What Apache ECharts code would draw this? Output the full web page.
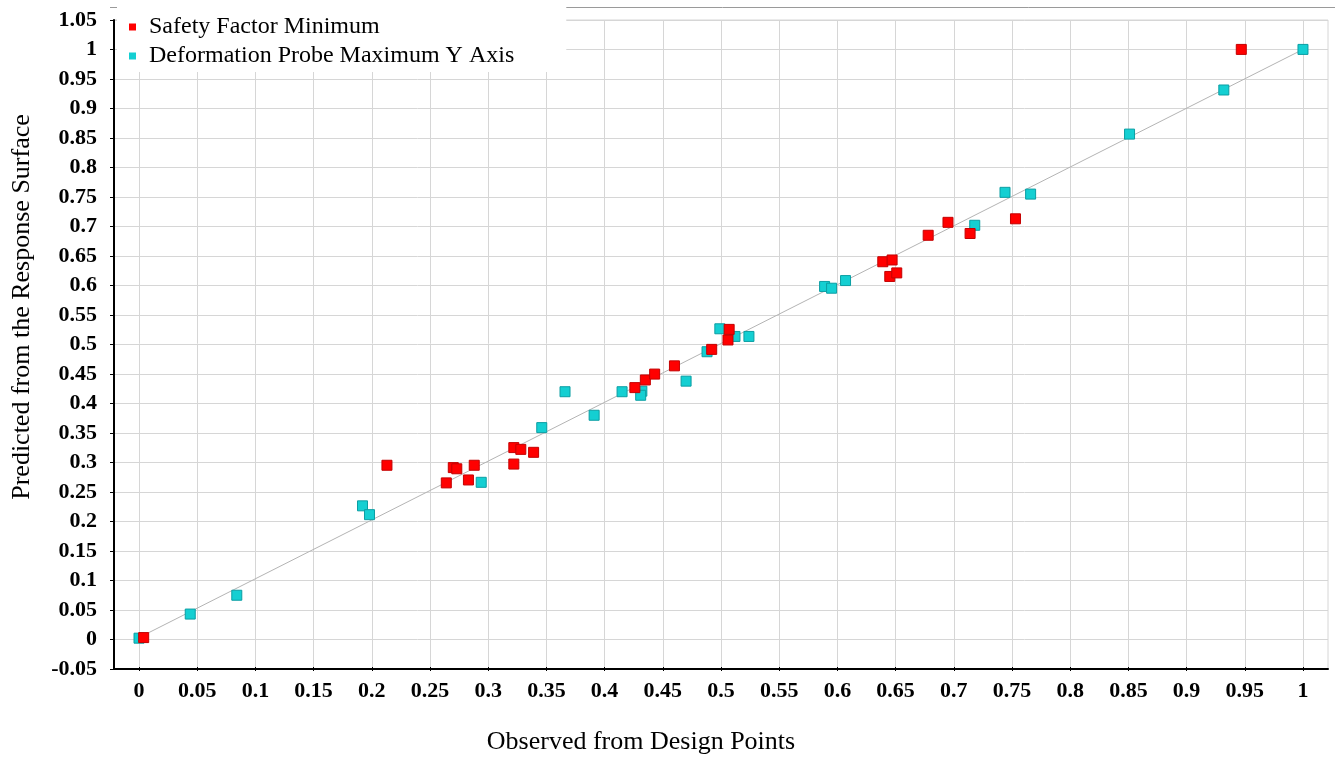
<!DOCTYPE html>
<html>
<head>
<meta charset="utf-8">
<script src="https://cdn.jsdelivr.net/npm/echarts@6/dist/echarts.min.js"></script>
<style>html,body{margin:0;padding:0;background:#fff;}#chart{width:1335px;height:760px;}</style>
</head>
<body>
<div id="chart"></div>
<script>
// ---- data ----
const safetyX = [0.004, 0.213, 0.264, 0.270, 0.273, 0.283, 0.288, 0.322, 0.322, 0.328, 0.339, 0.426, 0.435, 0.443, 0.460, 0.492, 0.506, 0.507, 0.639, 0.647, 0.645, 0.651, 0.678, 0.695, 0.714, 0.753, 0.947];
const safetyY = [0.000, 0.293, 0.263, 0.289, 0.287, 0.268, 0.293, 0.323, 0.295, 0.320, 0.315, 0.425, 0.438, 0.448, 0.462, 0.490, 0.506, 0.524, 0.639, 0.642, 0.614, 0.620, 0.684, 0.706, 0.687, 0.712, 1.000];
const deformX = [-0.002, 0.000, 0.044, 0.084, 0.192, 0.198, 0.294, 0.346, 0.366, 0.391, 0.415, 0.432, 0.431, 0.470, 0.488, 0.499, 0.512, 0.524, 0.589, 0.595, 0.607, 0.718, 0.744, 0.766, 0.851, 0.932, 1.000];
const deformY = [0.007, -0.001, 0.040, 0.072, 0.224, 0.209, 0.264, 0.357, 0.418, 0.378, 0.418, 0.419, 0.412, 0.436, 0.486, 0.525, 0.512, 0.512, 0.597, 0.594, 0.607, 0.701, 0.757, 0.754, 0.856, 0.931, 1.000];
const fitLineX = [0, 1];
const fitLineY = [0, 1];
const seriesNames = ['Safety Factor Minimum', 'Deformation Probe Maximum Y Axis'];
const xTickMin = 0, xTickMax = 1, tickStep = 0.05;
const yMin = -0.05, yMax = 1.05;
const xFrameMin = -0.0215, xFrameMax = 1.0215;

// ---- layout ----
const W = 1335;
const frameLeft = 114, frameRight = 7, frameTop = 20, frameBottom = 91;
const frameWidth = W - frameLeft - frameRight;
const innerLeft = frameLeft + (xTickMin - xFrameMin) / (xFrameMax - xFrameMin) * frameWidth;
const innerRight = frameRight + (xFrameMax - xTickMax) / (xFrameMax - xFrameMin) * frameWidth;

const zip = (a, b) => a.map((v, i) => [v, b[i]]);
const fmt = v => String(parseFloat(v.toFixed(2)));
const serif = 'Liberation Serif';
const gridColor = '#d6d6d6';

const chart = echarts.init(document.getElementById('chart'), null, {renderer: 'canvas'});
chart.setOption({
  animation: false,
  backgroundColor: '#ffffff',
  graphic: [{
    type: 'line', z: 0,
    shape: {x1: 110, y1: 7.5, x2: W, y2: 7.5},
    style: {stroke: '#9a9a9a', lineWidth: 1}
  }],
  grid: [
    {left: frameLeft, right: frameRight, top: frameTop, bottom: frameBottom,
     show: true, borderColor: gridColor, borderWidth: 1, backgroundColor: 'transparent'},
    {left: innerLeft, right: innerRight, top: frameTop, bottom: frameBottom}
  ],
  legend: {
    data: [{name: seriesNames[0], icon: 'rect'}, {name: seriesNames[1], icon: 'rect'}],
    orient: 'vertical', left: 117, top: 0,
    padding: [15, 52, 4, 12],
    itemWidth: 7, itemHeight: 7, itemGap: 5,
    backgroundColor: '#ffffff',
    itemStyle: {borderWidth: 0},
    textStyle: {fontFamily: serif, fontSize: 24, color: '#000', padding: [0, 0, 0, 8]},
    selectedMode: false
  },
  xAxis: [
    {type: 'value', gridIndex: 0, min: xFrameMin, max: xFrameMax,
     axisLine: {show: true, onZero: false, lineStyle: {color: '#000', width: 2}},
     axisTick: {show: false}, axisLabel: {show: false}, splitLine: {show: false}},
    {type: 'value', gridIndex: 1, min: xTickMin, max: xTickMax, interval: tickStep,
     axisLine: {show: false, onZero: false},
     axisTick: {show: true, length: 4, lineStyle: {color: '#000', width: 1}},
     axisLabel: {margin: 13, fontFamily: serif, fontWeight: 'bold', fontSize: 22, color: '#000', formatter: fmt},
     splitLine: {show: true, lineStyle: {color: gridColor, width: 1}},
     name: 'Observed from Design Points', nameLocation: 'middle', nameGap: 62,
     nameTextStyle: {fontFamily: serif, fontSize: 26, color: '#000', padding: [0, 160, 0, 0]}}
  ],
  yAxis: [
    {type: 'value', gridIndex: 0, min: yMin, max: yMax, interval: tickStep,
     axisLine: {show: true, onZero: false, lineStyle: {color: '#000', width: 2}},
     axisTick: {show: true, length: 4, lineStyle: {color: '#000', width: 1}},
     axisLabel: {margin: 17, fontFamily: serif, fontWeight: 'bold', fontSize: 22, color: '#000', formatter: fmt},
     splitLine: {show: true, lineStyle: {color: gridColor, width: 1}},
     name: 'Predicted from the Response Surface', nameLocation: 'middle', nameGap: 79,
     nameTextStyle: {fontFamily: serif, fontSize: 26, color: '#000', padding: [0, 0, 0, 75]}},
    {type: 'value', gridIndex: 1, min: yMin, max: yMax, interval: tickStep, show: false,
     axisLine: {onZero: false}, splitLine: {show: false}}
  ],
  series: [
    {type: 'line', xAxisIndex: 1, yAxisIndex: 1, data: zip(fitLineX, fitLineY),
     symbol: 'none', silent: true, z: 1,
     lineStyle: {color: '#b4b4b4', width: 1}},
    {name: seriesNames[1], type: 'scatter', xAxisIndex: 1, yAxisIndex: 1,
     data: zip(deformX, deformY), symbol: 'rect', symbolSize: 10, z: 2,
     itemStyle: {color: '#14cfd2', borderColor: '#0b9ea3', borderWidth: 1, opacity: 1}},
    {name: seriesNames[0], type: 'scatter', xAxisIndex: 1, yAxisIndex: 1,
     data: zip(safetyX, safetyY), symbol: 'rect', symbolSize: 10, z: 3,
     itemStyle: {color: '#ff0000', borderColor: '#c40000', borderWidth: 1, opacity: 1}}
  ]
});
</script>
</body>
</html>
